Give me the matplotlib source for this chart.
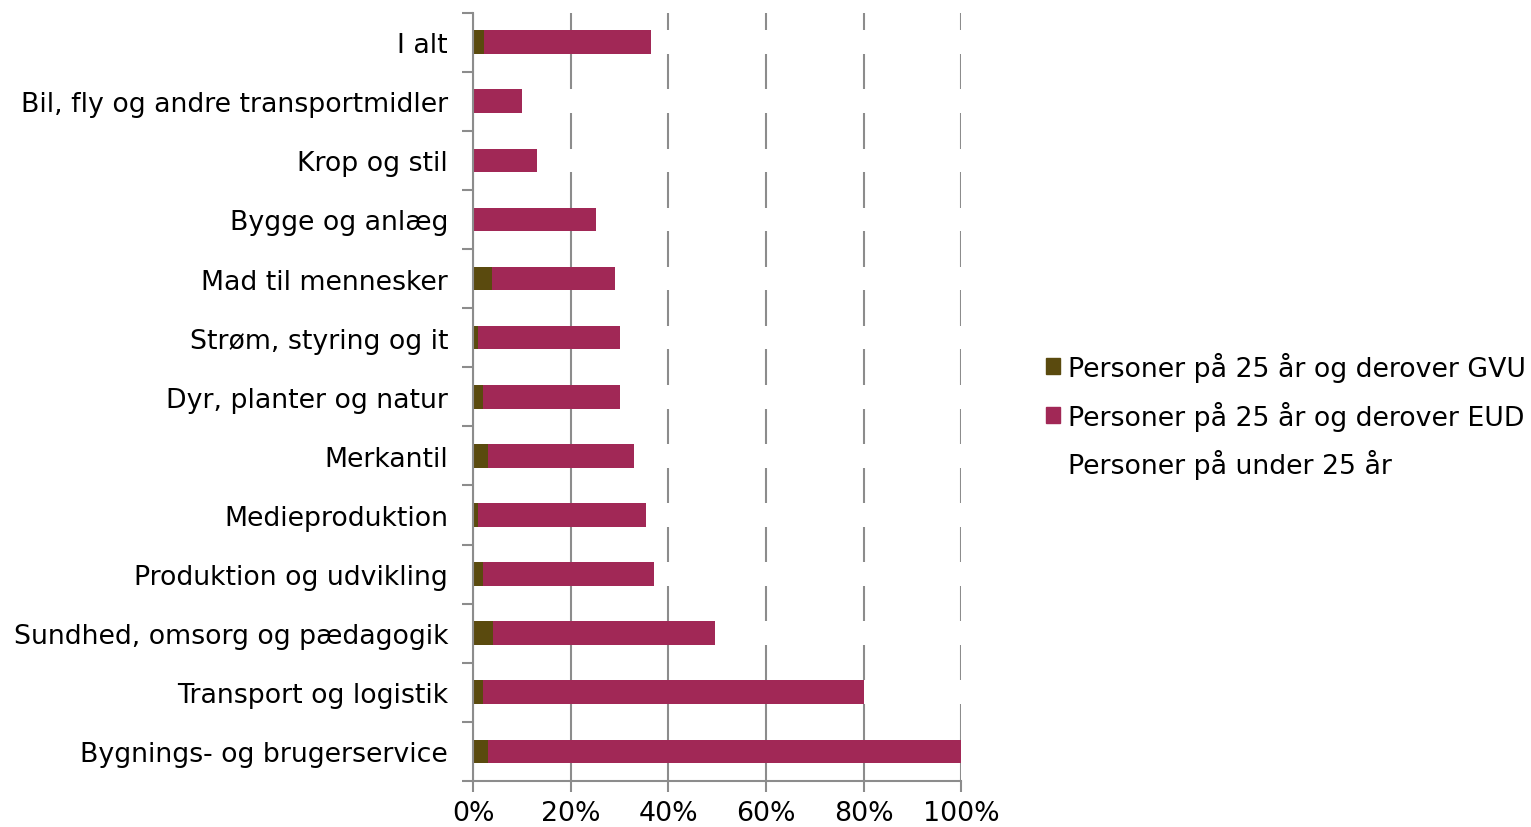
import numpy as np
import matplotlib.pyplot as plt
from matplotlib.patches import Patch

categories = ['I alt', 'Bil, fly og andre transportmidler', 'Krop og stil',
              'Bygge og anlæg', 'Mad til mennesker', 'Strøm, styring og it',
              'Dyr, planter og natur', 'Merkantil', 'Medieproduktion',
              'Produktion og udvikling', 'Sundhed, omsorg og pædagogik',
              'Transport og logistik', 'Bygnings- og brugerservice']
gvu = [2.2, 0, 0, 0, 3.9, 1, 2, 3, 1, 2, 4, 2, 3]
eud = [34.2, 10, 13.1, 25.2, 25.1, 29, 28, 30, 34.4, 35, 45.5, 78, 97]
under25 = [100 - a - b for a, b in zip(gvu, eud)]

plt.rcParams['font.family'] = ['DejaVu Sans']
plt.rcParams['font.size'] = 19.3

fig = plt.figure(figsize=(15.31, 8.28), dpi=100)
ax = fig.add_axes([0.309, 0.0556, 0.319, 0.928])

y = np.arange(len(categories))[::-1]
h = 0.4
c_gvu = '#5a4a0e'
c_eud = '#a12856'
ax.barh(y, gvu, h, color=c_gvu, edgecolor='none')
ax.barh(y, eud, h, left=gvu, color=c_eud, edgecolor='none')
ax.barh(y, under25, h, left=np.array(gvu) + np.array(eud), color='white', edgecolor='none')

ax.set_xlim(0, 100)
ax.set_ylim(-0.5, len(categories) - 0.5)
ax.set_xticks(np.arange(0, 101, 20))
ax.set_xticklabels([f'{v}%' for v in range(0, 101, 20)])
ax.set_yticks(y)
ax.set_yticklabels(categories)
ax.set_yticks(np.arange(-0.5, len(categories), 1), minor=True)

gray = '#8c8c8c'
ax.set_axisbelow(True)
ax.grid(axis='x', color=gray, linewidth=1.5)
for s in ['top', 'right']:
    ax.spines[s].set_visible(False)
for s in ['left', 'bottom']:
    ax.spines[s].set_color(gray)
    ax.spines[s].set_linewidth(1.5)
ax.tick_params(axis='y', which='major', length=0, pad=18)
ax.tick_params(axis='y', which='minor', length=8, width=1.5, color=gray)
ax.tick_params(axis='x', length=8, width=1.5, color=gray, pad=6)

handles = [Patch(color=c_gvu), Patch(color=c_eud), Patch(color='white')]
labels = ['Personer på 25 år og derover GVU', 'Personer på 25 år og derover EUD',
          'Personer på under 25 år']
fig.legend(handles, labels, loc='center left', bbox_to_anchor=(0.676, 0.497),
           frameon=False, handlelength=0.55, handleheight=0.55, handletextpad=0.3,
           labelspacing=0.7, borderaxespad=0)

fig.savefig('out.png', dpi=100)
